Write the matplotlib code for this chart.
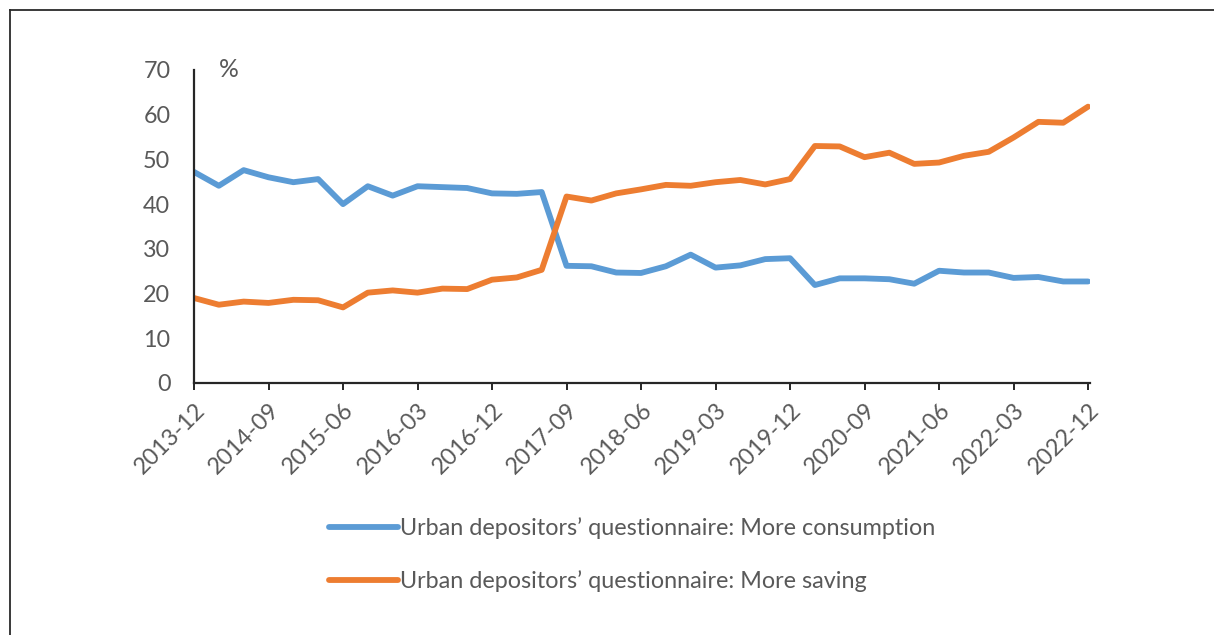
import numpy as np
import matplotlib.pyplot as plt
from matplotlib.lines import Line2D

plt.rcParams['font.family'] = ['Lato', 'DejaVu Sans']

# quarterly survey, 2013-12 .. 2022-12
quarters = [f"{y}-{m:02d}" for y in range(2013, 2023) for m in (3, 6, 9, 12)][3:]
consumption = [47.2, 44.1, 47.6, 46.0, 44.9, 45.6, 40.0, 44.0, 41.9, 44.0,
               43.8, 43.6, 42.4, 42.3, 42.7, 26.2, 26.1, 24.7, 24.6, 26.1,
               28.7, 25.8, 26.3, 27.7, 27.9, 21.9, 23.4, 23.4, 23.2, 22.2,
               25.1, 24.7, 24.7, 23.5, 23.7, 22.7, 22.7]
saving = [19.0, 17.5, 18.2, 17.9, 18.6, 18.5, 16.9, 20.2, 20.7, 20.2,
          21.1, 21.0, 23.1, 23.6, 25.3, 41.7, 40.8, 42.4, 43.3, 44.3,
          44.1, 44.9, 45.4, 44.4, 45.6, 53.0, 52.9, 50.5, 51.5, 49.0,
          49.3, 50.8, 51.7, 54.9, 58.4, 58.2, 61.8]
labels = ["Urban depositors\u2019 questionnaire: More consumption",
          "Urban depositors\u2019 questionnaire: More saving"]

grey = '#595959'
blue = '#5B9BD5'
orange = '#ED7D31'
fs = 16.8

fig = plt.figure(figsize=(12.14, 6.35), dpi=100)
ax = fig.add_axes([0.1598, 0.3969, 0.8979 - 0.1598, 0.8898 - 0.3969])

x = np.arange(len(quarters))
ax.plot(x, consumption, color=blue, lw=4.2, solid_capstyle='round', label=labels[0])
ax.plot(x, saving, color=orange, lw=4.2, solid_capstyle='round', label=labels[1])

ax.set_xlim(0, len(quarters) - 1 + 0.08)
ax.set_ylim(0, 70)
ax.set_yticks(range(0, 71, 10))
ax.set_xticks(x[::3])
ax.set_xticklabels(quarters[::3], rotation=45, ha='right', rotation_mode='anchor')

for s in ('top', 'right'):
    ax.spines[s].set_visible(False)
for s in ('left', 'bottom'):
    ax.spines[s].set_color('#262626')
    ax.spines[s].set_linewidth(1.6)

ax.tick_params(axis='y', length=0, pad=17, labelsize=fs, labelcolor=grey)
ax.tick_params(axis='x', length=5, width=1.4, color='#262626', pad=7,
               labelsize=fs, labelcolor=grey)

ax.text(0.028, 1.0, '%', transform=ax.transAxes, fontsize=fs + 1, color=grey,
        ha='left', va='center')

fig.legend(loc='upper left', bbox_to_anchor=(329 / 1214, 1 - 517 / 635),
           frameon=False, fontsize=fs, labelcolor=grey, handlelength=2.95,
           handletextpad=0.1, labelspacing=1.35, borderaxespad=0, borderpad=0)

# outer frame, only top and left edges are inside the image
fig.add_artist(Line2D([9.5 / 1214, 9.5 / 1214], [0, 1 - 10 / 635],
                      color='#2a2a2a', lw=1.3, transform=fig.transFigure))
fig.add_artist(Line2D([9.5 / 1214, 1], [1 - 10 / 635, 1 - 10 / 635],
                      color='#2a2a2a', lw=1.3, transform=fig.transFigure))

fig.savefig('out.png', dpi=100)
